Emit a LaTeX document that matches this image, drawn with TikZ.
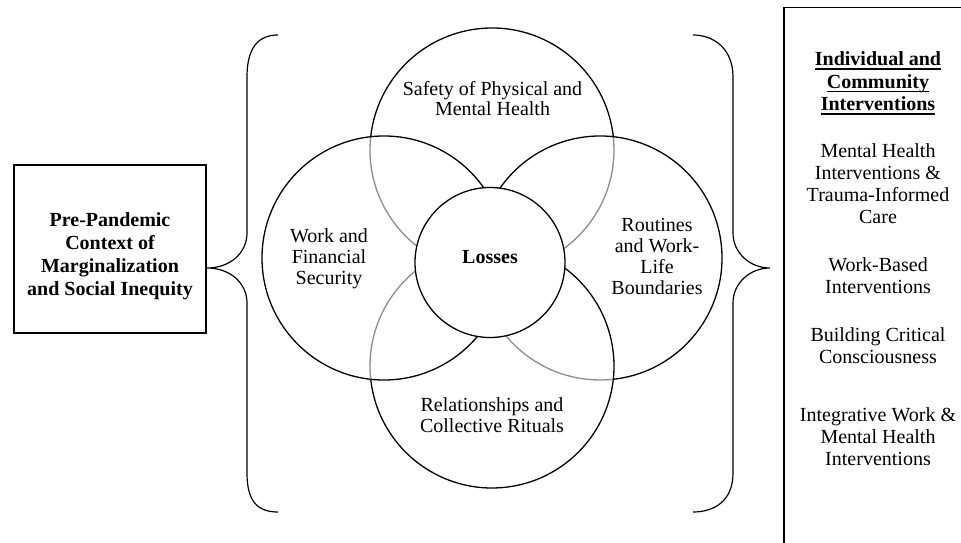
\documentclass[tikz,border=0pt]{standalone}
\usepackage{fontspec}
\setmainfont{Liberation Serif}
\usetikzlibrary{calc}

% struts that give every label the same top and bottom extent
\newcommand{\tp}{\rule{0pt}{15pt}}
\newcommand{\bt}{\rule[-5pt]{0pt}{5pt}}
% underline at a fixed depth below the baseline
\newsavebox{\ulbox}
\newcommand{\undl}[1]{\sbox{\ulbox}{#1}\rlap{\rule[-3.8pt]{\wd\ulbox}{1.4pt}}\usebox{\ulbox}}

\tikzset{
  ring/.style={line width=1.3pt, draw=black},
  ringfade/.style={line width=1.3pt, draw=black!45},
  frame/.style={draw=black, line width=1.5pt, inner sep=0pt},
  brace/.style={line width=1.2pt, draw=black},
  lbl/.style={align=center, inner sep=0pt, font=\fontsize{20}{20.7}\selectfont},
  boxlbl/.style={align=center, inner sep=0pt, font=\fontsize{20}{23}\selectfont\bfseries},
  sidelbl/.style={align=center, inner sep=0pt, font=\fontsize{20}{22}\selectfont},
  sidehead/.style={align=center, inner sep=0pt, font=\fontsize{20}{22.5}\selectfont\bfseries},
}

\begin{document}
\begin{tikzpicture}[x=1pt, y=1pt]
  \useasboundingbox (0,0) rectangle (961,543);
  \fill[white] (0,0) rectangle (961,543);
  \clip (0,0) rectangle (961,543);

  % context box on the left
  \node[frame, minimum width=192, minimum height=168] (ctx) at (110,294) {};
  \node[boxlbl] (ctxtext) at ([yshift=-7.5]ctx.center)
    {\tp Pre-Pandemic\\Context of\\Marginalization\\and Social Inequity\bt};

  % interventions box on the right, running off the page
  \node[frame, anchor=north west, minimum width=200, minimum height=570] (iv) at (783,536) {};

  % left brace
  \draw[brace] (278,508) .. controls (258,508) and (247,495) .. (247,466)
    -- (247,310) .. controls (247,290) and (230,275) .. (207,275)
    .. controls (230,275) and (247,260) .. (247,240)
    -- (247,70) .. controls (247,41) and (258,31) .. (278,31);

  % right brace
  \draw[brace] (693,508) .. controls (713,508) and (733,495) .. (733,466)
    -- (733,310) .. controls (733,290) and (750,275) .. (770,275)
    .. controls (750,275) and (733,260) .. (733,240)
    -- (733,70) .. controls (733,41) and (713,31) .. (693,31);

  % centres of the four domain circles
  \coordinate (cT) at (492,393);
  \coordinate (cL) at (384,285);
  \coordinate (cR) at (600,285);
  \coordinate (cB) at (492,177);

  % top circle: lower part faded
  \draw[ring]     (cT) ++(6.26:122)   arc[start angle=6.26,   end angle=173.74, radius=122];
  \draw[ringfade] (cT) ++(173.74:122) arc[start angle=173.74, end angle=366.26, radius=122];
  % left circle: fully dark
  \draw[ring] (cL) circle[radius=122];
  % right circle: arc inside the bottom circle faded
  \draw[ring]     (cR) ++(276.26:122) arc[start angle=276.26, end angle=540,    radius=122];
  \draw[ringfade] (cR) ++(180:122)    arc[start angle=180,    end angle=276.26, radius=122];
  % bottom circle: arc inside the left circle faded
  \draw[ring]     (cB) ++(186.26:122) arc[start angle=186.26, end angle=450,    radius=122];
  \draw[ringfade] (cB) ++(90:122)     arc[start angle=90,     end angle=186.26, radius=122];

  % central circle
  \node[circle, ring, fill=white, minimum size=150, inner sep=0pt] (loss) at (490,280.5) {};
  \node[lbl, font=\fontsize{20}{20.7}\selectfont\bfseries] (losstext) at ([yshift=3.5]loss.center) {\tp Losses\bt};

  % domain labels
  \node[lbl] (safety) at (492.5,442.6) {\tp Safety of Physical and\\Mental Health\bt};
  \node[lbl] (work)   at (329,284.5)   {\tp Work and\\Financial\\Security\bt};
  \node[lbl] (rout)   at (657,285)     {\tp Routines\\and Work-\\Life\\Boundaries\bt};
  \node[lbl] (rel)    at (492,125.8)   {\tp Relationships and\\Collective Rituals\bt};

  % intervention list
  \node[sidehead] (ivhead) at (878,459.5)
    {\tp\undl{Individual and}\\\undl{Community}\\\undl{Interventions}\bt};
  \node[sidelbl] (iv1) at (878,357)
    {\tp Mental Health\\Interventions \&\\Trauma-Informed\\Care\bt};
  \node[sidelbl] (iv2) at (878,265.5) {\tp Work-Based\\Interventions\bt};
  \node[sidelbl] (iv3) at (878,195.5) {\tp Building Critical\\Consciousness\bt};
  \node[sidelbl] (iv4) at (878,104.7)
    {\tp Integrative Work \&\\Mental Health\\Interventions\bt};
\end{tikzpicture}
\end{document}
